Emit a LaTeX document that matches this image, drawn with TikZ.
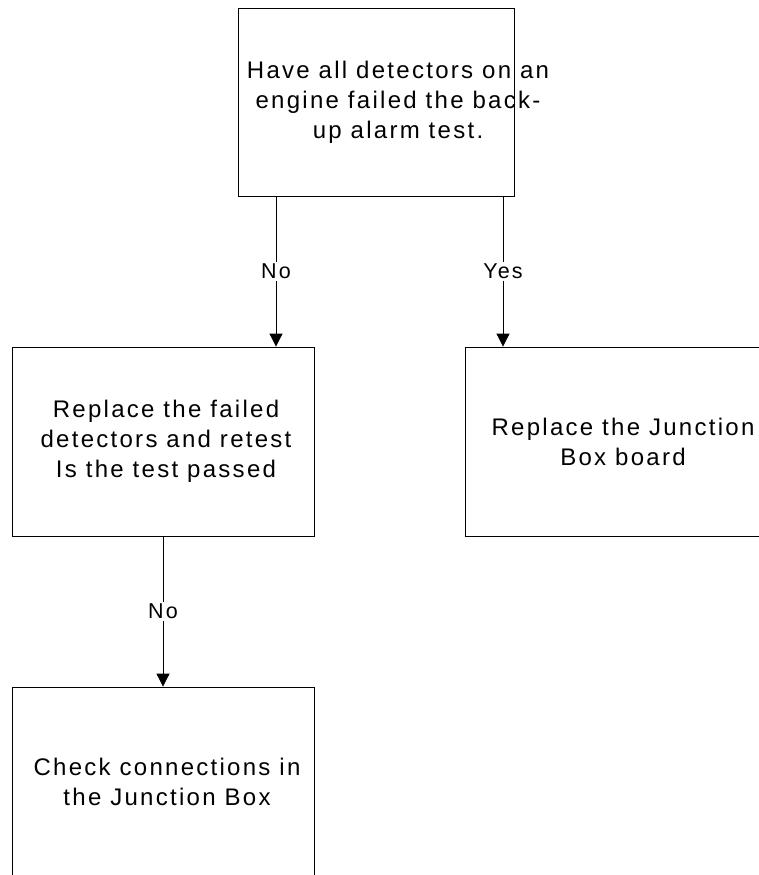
\documentclass[tikz,border=0pt]{standalone}
\usepackage{fontspec}
\setmainfont{Liberation Sans}
\newfontfamily\boxfont[LetterSpace=9.5]{Liberation Sans}
\usetikzlibrary{arrows.meta,positioning}

\begin{document}
\begin{tikzpicture}[x=1pt, y=1pt,
  box/.style={draw=black, line width=0.8pt, minimum width=302pt, minimum height=189pt, inner sep=0pt},
  boxtext/.style={font=\fontsize{24}{30}\boxfont, align=center, inner sep=0pt},
  flow/.style={draw=black, line width=0.8pt, -{Triangle[width=13pt,length=13pt]}},
  answer/.style={fill=white, font=\fontsize{21.5}{24}\boxfont, inner sep=2pt}
]
  \useasboundingbox (0,0) rectangle (758,-875);

  % Boxes
  \node[box, minimum width=276pt, minimum height=188pt] (q1) at (376,-102) {};
  \node[box] (fix) at (163,-441.5) {};
  \node[box] (jbox) at (616,-441.5) {};
  \node[box] (check) at (163,-781.5) {};

  % Box texts
  \node[boxtext] (q1txt) at ([xshift=22pt]q1.center) {Have all detectors on an\\engine failed the back-\\up alarm test.};
  \node[boxtext] (fixtxt) at ([xshift=3pt]fix.center) {Replace the failed\\detectors and retest\\Is the test passed};
  \node[boxtext] (jboxtxt) at ([xshift=7pt]jbox.center) {Replace the Junction\\Box board};
  \node[boxtext] (checktxt) at ([xshift=4pt]check.center) {Check connections in\\the Junction Box};

  % Connectors
  \coordinate (noout) at ([xshift=-100pt]q1.south);
  \coordinate (yesout) at ([xshift=127pt]q1.south);
  \draw[flow] (noout) -- (noout |- fix.north) node[midway, answer] (no1) {No};
  \draw[flow] (yesout) -- (yesout |- jbox.north) node[midway, answer] (yes1) {Yes};
  \draw[flow] (fix.south) -- (check.north) node[midway, answer] (no2) {No};

\end{tikzpicture}
\end{document}
